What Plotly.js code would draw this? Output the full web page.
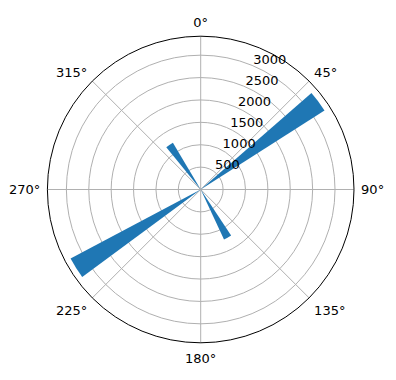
<!DOCTYPE html>
<html>
<head>
<meta charset="utf-8">
<script src="https://cdn.plot.ly/plotly-3.0.1.min.js"></script>
<style>html,body{margin:0;padding:0;background:#fff;}#chart{width:396px;height:380px;}</style>
</head>
<body>
<div id="chart"></div>
<script>
// Bar directions (degrees, clockwise from north) and magnitudes
const directions = [53.2, 237.8, 325.0, 150.7];
const magnitudes = [3280, 3290, 1215, 1230];
const barWidths = [8.5, 8.5, 8.5, 8.5];
const radialTicks = [500, 1000, 1500, 2000, 2500, 3000];
const angleTicks = [0, 45, 90, 135, 180, 225, 270, 315];
const angleLabels = ["0°", "45°", "90°", "135°", "180°", "225°", "270°", "315°"];
const radialMax = 3424;

const W = 396, H = 380;
const cx = 200.7, cy = 189.5, R = 153.3;

const trace = {
  type: 'barpolar',
  r: magnitudes,
  theta: directions,
  width: barWidths,
  marker: {color: '#1f77b4', line: {width: 0}},
  hoverinfo: 'none'
};

const layout = {
  width: W, height: H,
  margin: {l: 0, r: 0, t: 0, b: 0},
  paper_bgcolor: '#fff',
  showlegend: false,
  font: {family: 'DejaVu Sans', size: 13, color: '#000'},
  polar: {
    domain: {x: [(cx - R) / W, (cx + R) / W], y: [1 - (cy + R) / H, 1 - (cy - R) / H]},
    bgcolor: '#fff',
    angularaxis: {
      rotation: 90,
      direction: 'clockwise',
      tickmode: 'array',
      tickvals: angleTicks,
      ticktext: angleLabels,
      showline: true,
      linecolor: '#000',
      linewidth: 1,
      showgrid: true,
      gridcolor: '#b0b0b0',
      gridwidth: 1,
      ticks: 'outside',
      ticklen: 4,
      tickcolor: 'rgba(0,0,0,0)',
      tickfont: {family: 'DejaVu Sans', size: 13, color: '#000'}
    },
    radialaxis: {
      range: [0, radialMax],
      tickmode: 'array',
      tickvals: radialTicks,
      ticktext: radialTicks.map(v => v + '<br> '),
      angle: 70,
      tickangle: 70,
      side: 'clockwise',
      showline: false,
      ticks: '',
      showgrid: true,
      gridcolor: '#b0b0b0',
      gridwidth: 1,
      tickfont: {family: 'DejaVu Sans', size: 13, color: '#000'}
    }
  }
};

Plotly.newPlot('chart', [trace], layout, {staticPlot: true, displayModeBar: false});
</script>
</body>
</html>
